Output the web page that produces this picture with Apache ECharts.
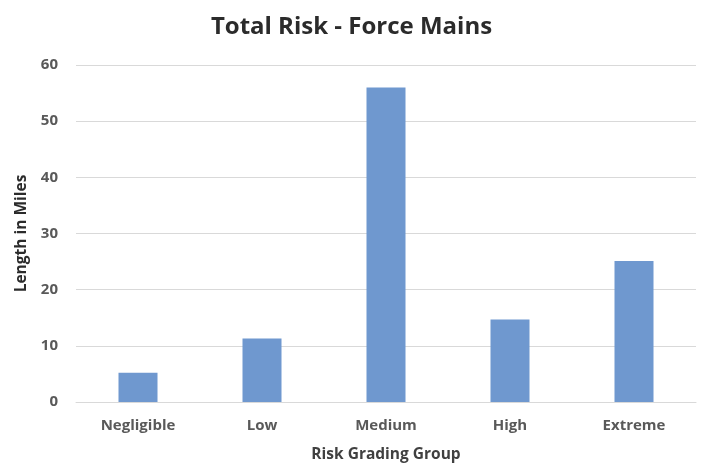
<!DOCTYPE html>
<html><head><meta charset="utf-8">
<script src="https://cdn.jsdelivr.net/npm/echarts@6/dist/echarts.min.js"></script>
<style>html,body{margin:0;padding:0;background:#fff}#c{width:703px;height:465px}</style>
</head><body><div id="c"></div>
<script>
var categories = ['Negligible', 'Low', 'Medium', 'High', 'Extreme'];
var lengthMiles = [5.2, 11.3, 56.0, 14.7, 25.1];
var yTicks = [0, 10, 20, 30, 40, 50, 60];

var chart = echarts.init(document.getElementById('c'));
var font = 'Open Sans';
chart.setOption({
  animation: false,
  title: {
    text: 'Total Risk - Force Mains', left: 'center', top: 10,
    textStyle: { fontFamily: font, fontSize: 24, fontWeight: 'bold', color: '#2b2b2b' }
  },
  grid: { left: 76, right: 7, top: 65, bottom: 63, outerBoundsMode: 'none', containLabel: false },
  xAxis: {
    type: 'category', data: categories,
    name: 'Risk Grading Group', nameLocation: 'middle', nameGap: 45,
    nameTextStyle: { fontFamily: font, fontSize: 15.5, fontWeight: 'bold', color: '#404040' },
    axisLine: { lineStyle: { color: '#d9d9d9' } },
    axisTick: { show: false },
    axisLabel: { margin: 16, fontFamily: font, fontSize: 15, fontWeight: 'bold', color: '#595959' }
  },
  yAxis: {
    type: 'value', min: yTicks[0], max: yTicks[yTicks.length - 1], interval: 10,
    name: 'Length in Miles', nameLocation: 'middle', nameGap: 46,
    nameTextStyle: { fontFamily: font, fontSize: 15.5, fontWeight: 'bold', color: '#2b2b2b' },
    axisLine: { show: false }, axisTick: { show: false },
    splitLine: { lineStyle: { color: '#d9d9d9' } },
    axisLabel: { margin: 18, fontFamily: font, fontSize: 15, fontWeight: 'bold', color: '#595959' }
  },
  series: [{
    type: 'bar', data: lengthMiles, barWidth: 39,
    itemStyle: { color: '#6f98cf' }
  }]
});
</script></body></html>
